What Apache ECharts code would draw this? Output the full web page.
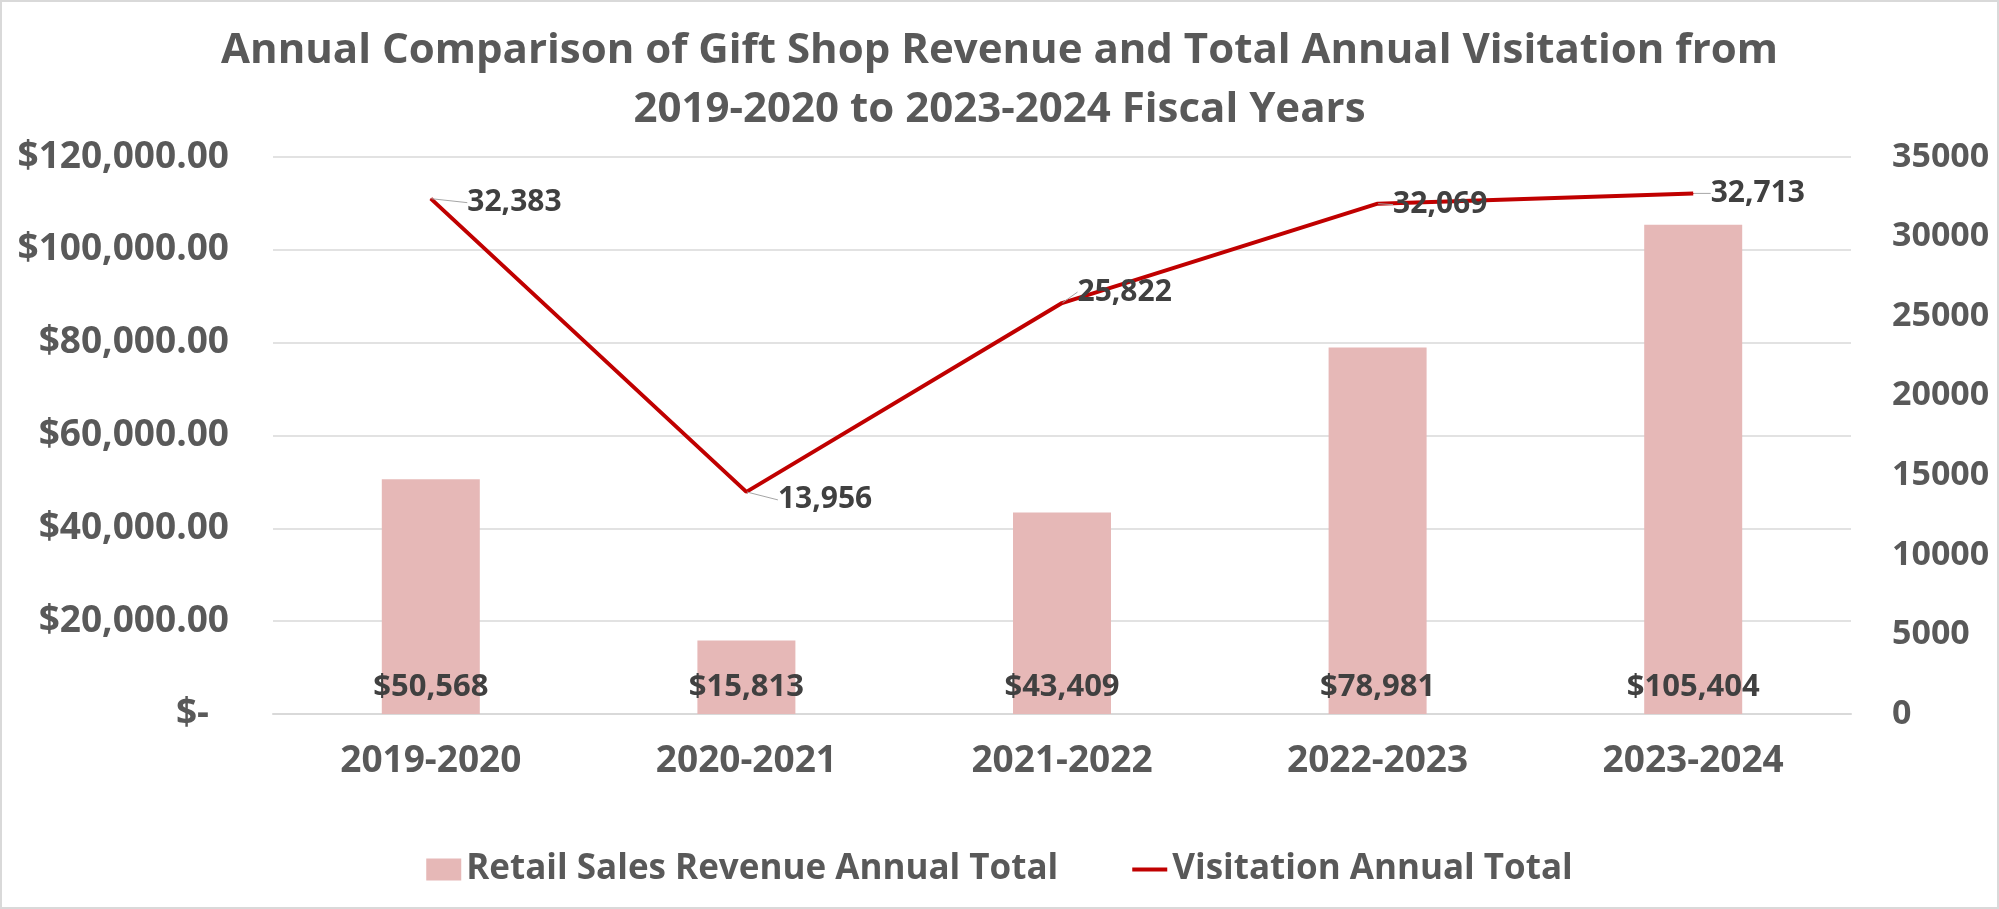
<!DOCTYPE html>
<html>
<head>
<meta charset="utf-8">
<script src="https://cdn.jsdelivr.net/npm/echarts@6/dist/echarts.min.js"></script>
<style>
html,body{margin:0;padding:0;background:#fff;}
#chart{width:1999px;height:909px;}
</style>
</head>
<body>
<div id="chart"></div>
<script>
// ---- data ----
const categories = ['2019-2020', '2020-2021', '2021-2022', '2022-2023', '2023-2024'];
const revenue = [50568, 15813, 43409, 78981, 105404];
const visitation = [32383, 13956, 25822, 32069, 32713];
const revenueName = 'Retail Sales Revenue Annual Total';
const visitationName = 'Visitation Annual Total';
const titleText = 'Annual Comparison of Gift Shop Revenue and Total Annual Visitation from\n2019-2020 to 2023-2024 Fiscal Years';

// label nudges for the line labels (layout only)
const lineLabelDx = [21, 16, 0, 0, 2];
const lineLabelDy = [4, 8, -11, 1, 0];

const FONT = '"Open Sans", "Noto Sans", sans-serif';
const chart = echarts.init(document.getElementById('chart'), null, {renderer: 'canvas'});

const fmtNum = v => Math.round(v).toLocaleString('en-US');

chart.setOption({
  backgroundColor: '#ffffff',
  animation: false,
  textStyle: {fontFamily: FONT},
  title: {
    text: titleText,
    left: 'center',
    top: 17,
    textStyle: {fontFamily: FONT, fontSize: 42, fontWeight: 'bold', color: '#595959', lineHeight: 59}
  },
  graphic: [{
    type: 'rect', silent: true,
    shape: {x: 1, y: 1, width: 1997, height: 907},
    style: {fill: 'none', stroke: '#D9D9D9', lineWidth: 2}
  }],
  legend: {
    bottom: 17,
    left: 'center',
    itemGap: 74,
    itemWidth: 35,
    itemHeight: 22,
    textStyle: {fontFamily: FONT, fontSize: 35, fontWeight: 'bold', color: '#595959'},
    data: [
      {name: revenueName, icon: 'rect', itemStyle: {color: '#E6B8B7'}},
      {name: visitationName, icon: 'path://M0,0 L37,0 L37,4 L0,4 Z', itemStyle: {color: '#C00000'}}
    ]
  },
  grid: {left: 273, right: 148, top: 157, bottom: 195, containLabel: false},
  xAxis: {
    type: 'category',
    data: categories,
    axisLine: {show: true, lineStyle: {color: '#D9D9D9', width: 2}},
    axisTick: {show: false},
    axisLabel: {margin: 29, fontFamily: FONT, fontSize: 37, fontWeight: 'bold', color: '#595959'}
  },
  yAxis: [{
    type: 'value',
    min: 0, max: 120000, interval: 20000,
    axisLine: {show: false}, axisTick: {show: false},
    splitLine: {lineStyle: {color: '#D9D9D9', width: 1.5}},
    axisLabel: {
      margin: 44, fontFamily: FONT, fontSize: 37, fontWeight: 'bold', color: '#595959',
      formatter: v => v === 0 ? '{z|$-}' : '$' + v.toLocaleString('en-US', {minimumFractionDigits: 2, maximumFractionDigits: 2}),
      rich: {z: {fontFamily: FONT, fontSize: 37, fontWeight: 'bold', color: '#595959', padding: [0, 20, 0, 0]}}
    }
  }, {
    type: 'value',
    min: 0, max: 35000, interval: 5000,
    axisLine: {show: false}, axisTick: {show: false},
    splitLine: {show: false},
    axisLabel: {margin: 41, fontFamily: FONT, fontSize: 34, fontWeight: 'bold', color: '#595959',
      formatter: v => String(v)}
  }],
  series: [{
    name: revenueName,
    type: 'bar',
    data: revenue,
    yAxisIndex: 0,
    barWidth: 98,
    itemStyle: {color: '#E6B8B7'},
    label: {
      show: true, position: 'insideBottom', distance: 11,
      fontFamily: FONT, fontSize: 31, fontWeight: 'bold', color: '#404040',
      formatter: p => '$' + fmtNum(p.value)
    },
    z: 2
  }, {
    name: visitationName,
    type: 'line',
    data: visitation,
    yAxisIndex: 1,
    symbol: 'circle',
    symbolSize: 1,
    showSymbol: true,
    lineStyle: {color: '#C00000', width: 4},
    itemStyle: {color: '#C00000'},
    label: {
      show: true, position: 'right', distance: 15,
      fontFamily: FONT, fontSize: 30, fontWeight: 'bold', color: '#404040',
      formatter: p => fmtNum(p.value)
    },
    labelLine: {show: true, lineStyle: {color: '#A6A6A6', width: 1}},
    labelLayout: p => ({dx: lineLabelDx[p.dataIndex], dy: lineLabelDy[p.dataIndex]}),
    z: 3
  }]
});
</script>
</body>
</html>
